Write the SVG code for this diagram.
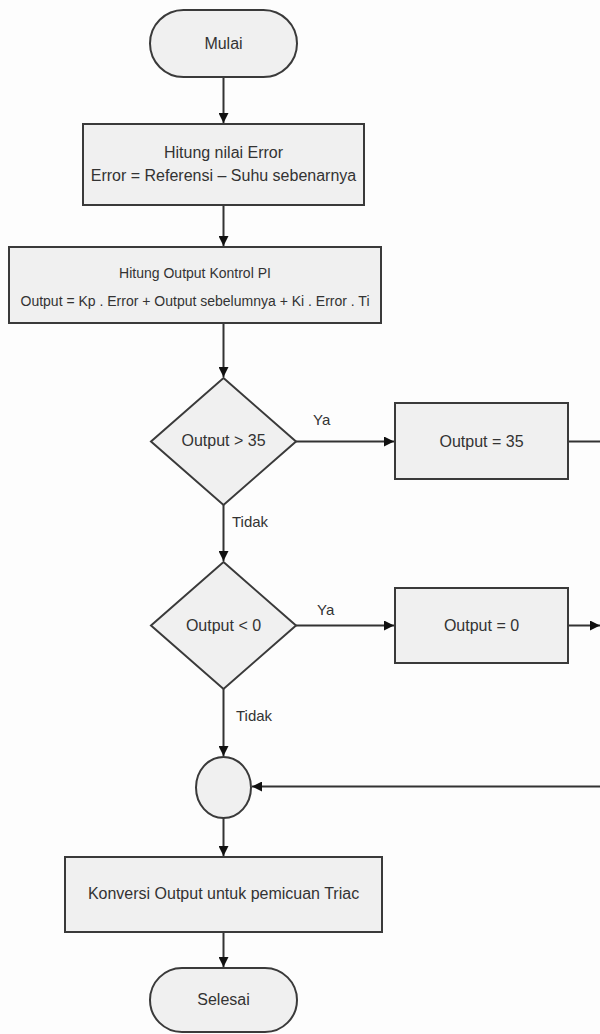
<svg xmlns="http://www.w3.org/2000/svg" width="600" height="1034" viewBox="0 0 600 1034">
<style>
.n{fill:#f0f0f0;stroke:#3a3a3a;stroke-width:2}
.t{font-family:"Liberation Sans",Arial,sans-serif;font-size:16px;fill:#333;text-anchor:middle}
.s{font-size:14px}
.l{font-family:"Liberation Sans",Arial,sans-serif;font-size:15px;fill:#333}
.c{fill:none;stroke:#333;stroke-width:2}
</style>
<defs>
<marker id="a" viewBox="0 0 10 10" refX="10" refY="5" markerWidth="10" markerHeight="10" markerUnits="userSpaceOnUse" orient="auto">
<path d="M0,0 L10,5 L0,10 Z" fill="#111"/>
</marker>
</defs>
<rect width="600" height="1034" fill="#fdfdfd"/>
<g id="connectors">
<line class="c" x1="223.5" y1="77" x2="223.5" y2="123" marker-end="url(#a)"/>
<line class="c" x1="223.5" y1="205" x2="223.5" y2="246" marker-end="url(#a)"/>
<line class="c" x1="223.5" y1="323" x2="223.5" y2="377" marker-end="url(#a)"/>
<line class="c" x1="296" y1="441.5" x2="394" y2="441.5" marker-end="url(#a)"/>
<line class="c" x1="568" y1="441.5" x2="600" y2="441.5"/>
<line class="c" x1="223.5" y1="505" x2="223.5" y2="561" marker-end="url(#a)"/>
<line class="c" x1="296" y1="625.5" x2="394" y2="625.5" marker-end="url(#a)"/>
<line class="c" x1="568" y1="625.5" x2="600" y2="625.5" marker-end="url(#a)"/>
<line class="c" x1="223.5" y1="689" x2="223.5" y2="756" marker-end="url(#a)"/>
<line class="c" x1="600" y1="786.5" x2="252" y2="786.5" marker-end="url(#a)"/>
<line class="c" x1="223.5" y1="818" x2="223.5" y2="856" marker-end="url(#a)"/>
<line class="c" x1="223.5" y1="932" x2="223.5" y2="967" marker-end="url(#a)"/>
<text class="l" x="313" y="425">Ya</text>
<text class="l" x="232" y="527">Tidak</text>
<text class="l" x="317" y="615">Ya</text>
<text class="l" x="236" y="721">Tidak</text>
</g>
<g id="mulai">
<rect class="n" x="150" y="10" width="147" height="67" rx="33.5"/>
<text class="t" x="223.5" y="49">Mulai</text>
</g>
<g id="hitung-error">
<rect class="n" x="83" y="124" width="281" height="81"/>
<text class="t" x="223.5" y="158">Hitung nilai Error</text>
<text class="t" x="223.5" y="181">Error = Referensi – Suhu sebenarnya</text>
</g>
<g id="hitung-output">
<rect class="n" x="9" y="247" width="372" height="76"/>
<text class="t s" x="195" y="278">Hitung Output Kontrol PI</text>
<text class="t s" x="195" y="306">Output = Kp . Error + Output sebelumnya + Ki . Error . Ti</text>
</g>
<g id="cek-35">
<polygon class="n" points="223.5,378 296,441.5 223.5,505 151,441.5"/>
<text class="t" x="223.5" y="446">Output &gt; 35</text>
</g>
<g id="set-35">
<rect class="n" x="395" y="403" width="173" height="76"/>
<text class="t" x="481.5" y="447">Output = 35</text>
</g>
<g id="cek-0">
<polygon class="n" points="223.5,562 296,625.5 223.5,689 151,625.5"/>
<text class="t" x="223.5" y="631">Output &lt; 0</text>
</g>
<g id="set-0">
<rect class="n" x="395" y="588" width="173" height="75"/>
<text class="t" x="481.5" y="631">Output = 0</text>
</g>
<g id="junction">
<ellipse class="n" cx="223.5" cy="787.5" rx="27.5" ry="30.5"/>
</g>
<g id="konversi">
<rect class="n" x="65" y="857" width="317" height="75"/>
<text class="t" x="223.5" y="899">Konversi Output untuk pemicuan Triac</text>
</g>
<g id="selesai">
<rect class="n" x="150" y="968" width="147" height="64" rx="32"/>
<text class="t" x="223.5" y="1005">Selesai</text>
</g>
</svg>
